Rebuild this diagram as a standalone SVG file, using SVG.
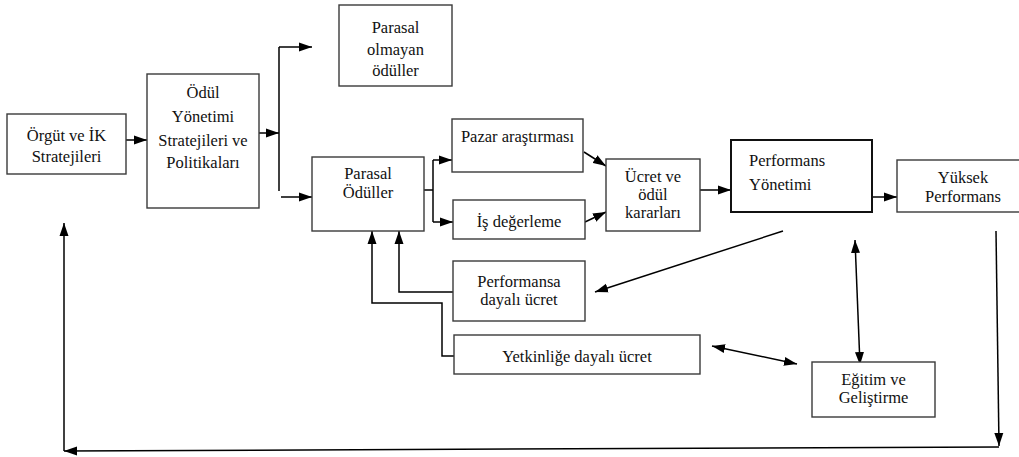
<svg xmlns="http://www.w3.org/2000/svg" width="1019" height="457" viewBox="0 0 1019 457">
<defs>
<marker id="ah" markerUnits="userSpaceOnUse" markerWidth="14" markerHeight="10" refX="13" refY="5" orient="auto-start-reverse">
<path d="M0,0.5 L13,5 L0,9.5 z" fill="#000"/>
</marker>
<style>
.box{fill:#fff;stroke:#3a3a3a;stroke-width:1.4}
.thick{stroke:#111;stroke-width:2}
.c{fill:none;stroke:#000;stroke-width:1.5}
.a{marker-end:url(#ah)}
.d{marker-start:url(#ah);marker-end:url(#ah)}
</style>
</defs>
<rect width="1019" height="457" fill="#fff"/>
<g id="connectors">
<path class="c a" d="M126,140 H147"/>
<path class="c a" d="M259,133 H279"/>
<path class="c" d="M279,47 V191"/>
<path class="c a" d="M279,47 H312"/>
<path class="c a" d="M281,197 H312"/>
<path class="c" d="M424,190 H433"/>
<path class="c" d="M433,160 V222"/>
<path class="c a" d="M433,160 H452"/>
<path class="c a" d="M433,222 H453"/>
<path class="c a" d="M584,152 L606,166"/>
<path class="c a" d="M585,222 L606,212"/>
<path class="c a" d="M700,190 H731"/>
<path class="c a" d="M872,197 H897" stroke-width="2.2"/>
<path class="c a" d="M783,231 L595,292"/>
<path class="c d" d="M855,240 L860,365"/>
<path class="c d" d="M712,346 L797,364"/>
<path class="c a" d="M453,292 H399 V231"/>
<path class="c a" d="M454,356 H442 V303 H372 V231"/>
<path class="c a" d="M996,231 L999,446"/>
<path class="c a" d="M999,447 L64,451"/>
<path class="c a" d="M64,451 V223"/>
</g>
<g font-family="Liberation Serif" font-size="16.5" fill="#111" text-anchor="middle">
<g id="n-orgut">
<rect class="box" x="7" y="114" width="119" height="60"/>
<text x="66.5" y="141">Örgüt ve İK</text>
<text x="66.5" y="162">Stratejileri</text>
</g>
<g id="n-odul">
<rect class="box" x="147" y="74" width="112" height="134"/>
<text x="203" y="98">Ödül</text>
<text x="203" y="122">Yönetimi</text>
<text x="203" y="146">Stratejileri ve</text>
<text x="203" y="168">Politikaları</text>
</g>
<g id="n-parasal-olmayan">
<rect class="box" x="339" y="5" width="113" height="81"/>
<text x="395.5" y="33">Parasal</text>
<text x="395.5" y="55">olmayan</text>
<text x="395.5" y="76">ödüller</text>
</g>
<g id="n-parasal">
<rect class="box" x="312" y="157" width="112" height="74"/>
<text x="368" y="179">Parasal</text>
<text x="368" y="198">Ödüller</text>
</g>
<g id="n-pazar">
<rect class="box" x="452" y="119" width="131" height="53"/>
<text x="517.5" y="142">Pazar araştırması</text>
</g>
<g id="n-is">
<rect class="box" x="453" y="200" width="132" height="39"/>
<text x="519" y="227">İş değerleme</text>
</g>
<g id="n-performansa">
<rect class="box" x="453" y="261" width="132" height="60"/>
<text x="519" y="287">Performansa</text>
<text x="519" y="305">dayalı ücret</text>
</g>
<g id="n-yetkinlik">
<rect class="box" x="454" y="335" width="246" height="39"/>
<text x="577" y="362">Yetkinliğe dayalı ücret</text>
</g>
<g id="n-ucret">
<rect class="box" x="606" y="159" width="94" height="72"/>
<text x="653" y="182">Ücret ve</text>
<text x="653" y="200">ödül</text>
<text x="653" y="218">kararları</text>
</g>
<g id="n-perf-yonetimi">
<rect class="box thick" x="731" y="140" width="141" height="72"/>
<text text-anchor="start" x="749" y="166">Performans</text>
<text text-anchor="start" x="749" y="190">Yönetimi</text>
</g>
<g id="n-yuksek">
<rect class="box" x="897" y="160" width="130" height="52"/>
<text x="963" y="183">Yüksek</text>
<text x="963" y="202">Performans</text>
</g>
<g id="n-egitim">
<rect class="box" x="812" y="362" width="123" height="55"/>
<text x="873.5" y="385">Eğitim ve</text>
<text x="873.5" y="403">Geliştirme</text>
</g>
</g>
</svg>
